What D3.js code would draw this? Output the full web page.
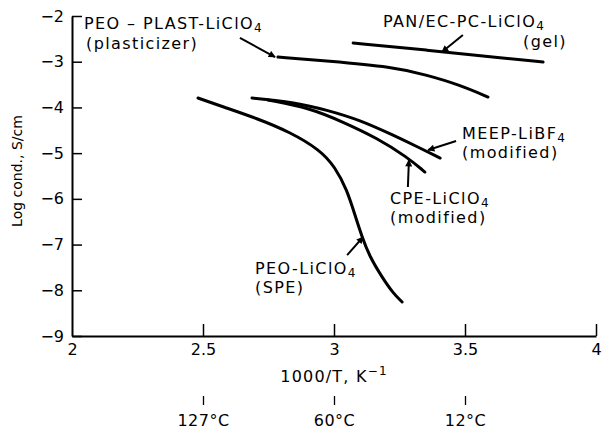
<!DOCTYPE html>
<html>
<head>
<meta charset="utf-8">
<script src="https://cdn.jsdelivr.net/npm/d3@7/dist/d3.min.js"></script>
<style>
  html, body { margin: 0; padding: 0; background: #fff; }
  svg { display: block; font-family: "DejaVu Sans", sans-serif; }
</style>
</head>
<body>
<svg id="chart" width="603" height="429"></svg>
<script>
// ---------- data (x = 1000/T in K^-1, y = log conductivity in S/cm) ----------
const xTicks = [2, 2.5, 3, 3.5, 4];
const yTicks = [-2, -3, -4, -5, -6, -7, -8, -9];
const tempTickPos = [2.5, 3, 3.5];
const tempTickLabels = ["127°C", "60°C", "12°C"];

const plastX = [2.786, 2.973, 3.225, 3.355, 3.481, 3.588];
const plastY = [-2.897, -2.984, -3.116, -3.291, -3.510, -3.772];

const panX = [3.073, 3.355, 3.634, 3.798];
const panY = [-2.591, -2.744, -2.919, -3.006];

const meepX = [2.687, 2.844, 2.973, 3.099, 3.225, 3.328, 3.405];
const meepY = [-3.794, -3.881, -4.056, -4.275, -4.603, -4.888, -5.107];

const cpeX = [2.748, 2.908, 3.034, 3.164, 3.279, 3.347];
const cpeY = [-3.838, -4.013, -4.319, -4.669, -5.085, -5.413];

const speX = [2.481, 2.576, 2.706, 2.832, 2.947, 3.004, 3.050, 3.080, 3.107, 3.137, 3.183, 3.225, 3.260];
const speY = [-3.794, -3.985, -4.240, -4.538, -4.931, -5.303, -5.807, -6.354, -6.835, -7.272, -7.710, -8.060, -8.257];

// ---------- layout ----------
const svg = d3.select("#chart");
const x = d3.scaleLinear().domain([2, 4]).range([72, 596]);
const y = d3.scaleLinear().domain([-2, -9]).range([16, 336]);
const FONT = "DejaVu Sans, sans-serif";

// arrow marker
svg.append("defs").append("marker")
  .attr("id", "ah").attr("viewBox", "0 0 10 10")
  .attr("refX", 9).attr("refY", 5)
  .attr("markerWidth", 9).attr("markerHeight", 7)
  .attr("markerUnits", "userSpaceOnUse")
  .attr("orient", "auto")
  .append("path").attr("d", "M0,0 L10,5 L0,10 Z").attr("fill", "#000");

// ---------- axes ----------
const yAxis = d3.axisLeft(y).tickValues(yTicks).tickSizeInner(-10).tickSizeOuter(0)
  .tickPadding(8).tickFormat(d => "\u2212" + Math.abs(d));
const gy = svg.append("g").attr("transform", `translate(${x(2)},0)`).call(yAxis);
gy.select(".domain").attr("stroke-width", 2);
gy.selectAll(".tick line").attr("stroke-width", 1.5);
gy.selectAll(".tick text").attr("font-size", 16).attr("font-family", FONT).attr("fill", "#000");

const xAxis = d3.axisBottom(x).tickValues(xTicks).tickSizeInner(-12).tickSizeOuter(0)
  .tickPadding(8).tickFormat(d => d);
const gx = svg.append("g").attr("transform", `translate(0,${y(-9)})`).call(xAxis);
gx.select(".domain").attr("stroke-width", 2);
gx.selectAll(".tick line").attr("stroke-width", 1.5);
gx.selectAll(".tick text").attr("font-size", 16).attr("font-family", FONT).attr("fill", "#000");
gx.selectAll(".tick").filter(d => d === 2).select("line").remove();

// secondary temperature scale
const tAxis = d3.axisBottom(x).tickValues(tempTickPos).tickSizeInner(9).tickSizeOuter(0)
  .tickPadding(10).tickFormat((d, i) => tempTickLabels[i]);
const gt = svg.append("g").attr("transform", "translate(0,396)").call(tAxis);
gt.select(".domain").remove();
gt.selectAll(".tick line").attr("stroke-width", 1.3);
gt.selectAll(".tick text").attr("font-size", 16).attr("font-family", FONT).attr("fill", "#000")
  .attr("letter-spacing", 0.5);

// axis titles
svg.append("text").attr("transform", "translate(22,171) rotate(-90)")
  .attr("text-anchor", "middle").attr("font-size", 14).attr("font-family", FONT)
  .text("Log cond., S/cm");

const xt = svg.append("text").attr("x", 334).attr("y", 382).attr("text-anchor", "middle")
  .attr("font-size", 16).attr("font-family", FONT).attr("letter-spacing", 1.2);
xt.append("tspan").text("1000/T, K");
xt.append("tspan").attr("dy", -7).attr("font-size", 12).text("\u22121");

// ---------- curves ----------
const line = d3.line().x(d => x(d[0])).y(d => y(d[1])).curve(d3.curveBasis);
const series = [[plastX, plastY], [panX, panY], [meepX, meepY], [cpeX, cpeY], [speX, speY]];
series.forEach(([xs, ys]) => {
  svg.append("path").datum(xs.map((v, i) => [v, ys[i]]))
    .attr("d", line).attr("fill", "none").attr("stroke", "#000")
    .attr("stroke-width", 3).attr("stroke-linecap", "round");
});

// ---------- annotations ----------
const arrows = [
  [[2.641, -2.481], [2.775, -2.897]],
  [[3.492, -2.416], [3.412, -2.788]],
  [[3.466, -4.735], [3.359, -4.931]],
  [[3.282, -5.741], [3.286, -5.150]],
  [[3.050, -7.229], [3.111, -6.835]]
];
arrows.forEach(([a, b]) => {
  svg.append("line").attr("x1", x(a[0])).attr("y1", y(a[1]))
    .attr("x2", x(b[0])).attr("y2", y(b[1]))
    .attr("stroke", "#000").attr("stroke-width", 2).attr("marker-end", "url(#ah)");
});

function label(px, py, main, sub) {
  const t = svg.append("text").attr("x", px).attr("y", py)
    .attr("font-size", 16).attr("font-family", FONT).attr("letter-spacing", 1.4);
  t.append("tspan").text(main);
  if (sub) t.append("tspan").attr("dy", 3).attr("font-size", 12).text(sub);
}
label(84, 29, "PEO \u2013 PLAST-LiClO", "4");
label(86, 49, "(plasticizer)");
label(383, 27, "PAN/EC-PC-LiClO", "4");
label(523, 47, "(gel)");
label(462, 139, "MEEP-LiBF", "4");
label(462, 158, "(modified)");
label(390, 204, "CPE-LiClO", "4");
label(390, 223, "(modified)");
label(255, 274, "PEO-LiClO", "4");
label(255, 293, "(SPE)");
</script>
</body>
</html>
